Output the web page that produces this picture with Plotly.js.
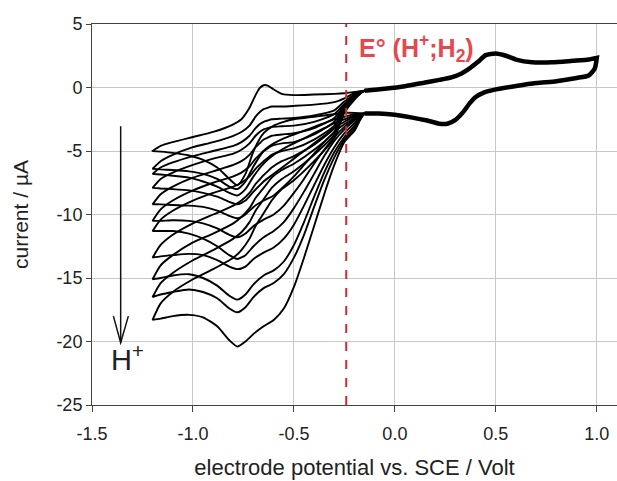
<!DOCTYPE html>
<html>
<head>
<meta charset="utf-8">
<script src="https://cdn.plot.ly/plotly-3.0.1.min.js"></script>
<style>html,body{margin:0;padding:0;background:#fff;}#chart{width:617px;height:481px;}</style>
</head>
<body>
<div id="chart"></div>
<script>
// ---------- Data ----------
// Shared part of every scan, potential > -0.15 V
const commonLowerX = [1.0,0.99,0.96,0.9,0.8,0.7,0.6,0.5,0.44,0.4,0.37,0.34,0.3,0.26,0.22,0.16,0.08,0.0,-0.08,-0.15];
const commonLowerY = [2.33,1.5,0.95,0.75,0.5,0.35,0.12,-0.15,-0.4,-0.75,-1.25,-1.9,-2.55,-2.85,-2.85,-2.6,-2.35,-2.15,-2.05,-2.05];
const commonUpperX = [-0.15,-0.05,0.05,0.15,0.22,0.28,0.33,0.37,0.41,0.45,0.5,0.55,0.6,0.68,0.78,0.88,0.96,1.0];
const commonUpperY = [-0.25,-0.1,0.1,0.4,0.6,0.8,1.1,1.5,2.0,2.55,2.68,2.5,2.2,1.98,1.98,2.1,2.2,2.33];

// Forward (cathodic) branch potentials, -0.2 -> -1.2 V
const fwdX = [-0.2,-0.25,-0.3,-0.35,-0.4,-0.45,-0.5,-0.55,-0.6,-0.65,-0.7,-0.74,-0.78,-0.82,-0.88,-0.95,-1.02,-1.1,-1.16,-1.2];
// Return (anodic) branch potentials, -1.2 -> -0.2 V
const retX = [-1.2,-1.16,-1.1,-1.0,-0.9,-0.8,-0.76,-0.72,-0.69,-0.67,-0.65,-0.63,-0.61,-0.56,-0.5,-0.4,-0.3,-0.25,-0.2];

// Currents (µA) for each scan, increasing acid concentration
const fwd0  = [-2.0,-2.0,-2.1,-2.2,-2.3,-2.4,-2.5,-2.7,-3.0,-3.6,-5.0,-6.8,-7.7,-7.2,-6.3,-5.7,-5.35,-5.15,-5.05,-5.0];
const fwd1  = [-2.1,-2.3,-2.5,-2.8,-3.1,-3.4,-3.7,-4.0,-4.4,-5.0,-6.2,-7.4,-8.0,-7.8,-7.2,-6.8,-6.6,-6.5,-6.45,-6.4];
const fwd2  = [-2.2,-2.5,-2.8,-3.2,-3.6,-4.0,-4.4,-4.8,-5.3,-6.0,-7.0,-8.0,-8.5,-8.3,-7.8,-7.4,-7.1,-6.95,-6.85,-6.8];
const fwd3  = [-2.3,-2.7,-3.2,-3.8,-4.4,-5.0,-5.6,-6.2,-6.8,-7.4,-8.2,-8.9,-9.2,-9.0,-8.6,-8.3,-8.1,-8.0,-7.95,-7.9];
const fwd4  = [-2.4,-2.9,-3.5,-4.3,-5.2,-6.1,-7.0,-7.8,-8.5,-8.9,-9.4,-10.0,-10.3,-10.1,-9.7,-9.4,-9.3,-9.25,-9.2,-9.2];
const fwd5  = [-2.5,-3.1,-3.9,-4.9,-6.0,-7.2,-8.3,-9.3,-10.0,-10.4,-10.9,-11.5,-11.8,-11.6,-11.1,-10.7,-10.5,-10.45,-10.5,-10.5];
const fwd6  = [-2.6,-3.3,-4.2,-5.4,-6.8,-8.2,-9.5,-10.6,-11.3,-11.8,-12.5,-13.2,-13.5,-13.2,-12.5,-11.9,-11.5,-11.3,-11.3,-11.3];
const fwd7  = [-2.8,-3.6,-4.7,-6.1,-7.7,-9.3,-10.8,-11.9,-12.6,-13.0,-13.5,-14.1,-14.3,-14.1,-13.6,-13.2,-13.1,-13.2,-13.3,-13.4];
const fwd8  = [-3.0,-3.9,-5.1,-6.7,-8.6,-10.6,-12.4,-13.7,-14.4,-14.8,-15.5,-16.3,-16.7,-16.4,-15.6,-15.0,-14.7,-14.8,-15.0,-15.1];
const fwd9  = [-3.2,-4.1,-5.5,-7.3,-9.4,-11.6,-13.4,-14.7,-15.4,-15.8,-16.5,-17.3,-17.7,-17.4,-16.6,-16.1,-15.9,-16.1,-16.3,-16.5];
const fwd10 = [-3.4,-4.3,-6.1,-8.4,-10.9,-13.4,-15.7,-17.4,-18.3,-18.8,-19.4,-20.0,-20.4,-19.9,-18.8,-18.1,-17.9,-18.0,-18.2,-18.3];

const ret0  = [-5.0,-4.6,-4.3,-3.9,-3.5,-2.9,-2.5,-1.6,-0.6,-0.05,0.18,0.15,-0.05,-0.5,-0.6,-0.55,-0.5,-0.45,-0.35];
const ret1  = [-6.4,-5.8,-5.3,-4.7,-4.3,-3.8,-3.5,-3.0,-2.3,-1.95,-1.7,-1.6,-1.5,-1.5,-1.45,-1.35,-1.15,-0.85,-0.45];
const ret2  = [-6.8,-6.3,-5.9,-5.4,-5.0,-4.6,-4.3,-3.8,-3.2,-2.9,-2.7,-2.6,-2.5,-2.45,-2.4,-2.2,-1.8,-1.1,-0.55];
const ret3  = [-7.9,-7.2,-6.7,-6.1,-5.6,-5.2,-4.9,-4.4,-3.8,-3.5,-3.3,-3.2,-3.1,-3.05,-3.0,-2.7,-2.1,-1.3,-0.6];
const ret4  = [-9.2,-8.4,-7.8,-7.1,-6.6,-6.1,-5.8,-5.3,-4.7,-4.4,-4.1,-3.95,-3.8,-3.7,-3.6,-3.2,-2.4,-1.4,-0.65];
const ret5  = [-10.5,-9.6,-8.9,-8.1,-7.5,-7.0,-6.7,-6.2,-5.6,-5.3,-5.0,-4.8,-4.6,-4.4,-4.3,-3.7,-2.7,-1.5,-0.7];
const ret6  = [-11.3,-10.4,-9.7,-8.9,-8.3,-7.8,-7.5,-7.0,-6.4,-6.1,-5.8,-5.55,-5.3,-5.0,-4.8,-4.1,-3.0,-1.6,-0.75];
const ret7  = [-13.4,-12.4,-11.6,-10.7,-10.0,-9.3,-8.9,-8.3,-7.6,-7.25,-6.9,-6.6,-6.3,-5.8,-5.4,-4.5,-3.2,-1.7,-0.8];
const ret8  = [-15.1,-14.0,-13.2,-12.2,-11.5,-10.7,-10.2,-9.5,-8.7,-8.3,-7.9,-7.5,-7.1,-6.5,-6.0,-4.9,-3.5,-1.8,-0.85];
const ret9  = [-16.5,-15.4,-14.6,-13.6,-12.8,-11.9,-11.4,-10.6,-9.7,-9.25,-8.8,-8.35,-7.9,-7.2,-6.6,-5.3,-3.7,-1.9,-0.9];
const ret10 = [-18.3,-17.0,-16.1,-15.1,-14.3,-13.4,-12.8,-11.9,-10.9,-10.4,-9.9,-9.4,-8.9,-8.0,-7.3,-5.8,-4.0,-2.0,-0.95];

const forwardSets = [fwd0,fwd1,fwd2,fwd3,fwd4,fwd5,fwd6,fwd7,fwd8,fwd9,fwd10];
const returnSets  = [ret0,ret1,ret2,ret3,ret4,ret5,ret6,ret7,ret8,ret9,ret10];

// Standard potential of H+/H2 vs. SCE
const eH2 = -0.241;

// Tick labels
const xTickVals = [-1.5,-1.0,-0.5,0.0,0.5,1.0];
const xTickText = ['-1.5','-1.0','-0.5','0.0','0.5','1.0'];
const yTickVals = [5,0,-5,-10,-15,-20,-25];
const yTickText = ['5','0','-5','-10','-15','-20','-25'];

// ---------- Traces ----------
const traces = [];
forwardSets.forEach((f, i) => {
  const r = returnSets[i];
  traces.push({
    type: 'scatter', mode: 'lines',
    x: [].concat(commonLowerX, fwdX, retX, commonUpperX),
    y: [].concat(commonLowerY, f, r, commonUpperY),
    line: {color: '#000', width: 1.9, shape: 'spline', smoothing: 0.6},
    hoverinfo: 'skip', showlegend: false
  });
});
// overlapping scans in the positive region form a thicker band
traces.push({
  type: 'scatter', mode: 'lines',
  x: [].concat(commonUpperX, commonLowerX),
  y: [].concat(commonUpperY, commonLowerY),
  line: {color: '#000', width: 4.5, shape: 'spline', smoothing: 0.6},
  hoverinfo: 'skip', showlegend: false
});

const fam = 'Liberation Sans, Arial, sans-serif';
const font = {family: fam, color: '#222'};

const layout = {
  width: 617, height: 481,
  margin: {l: 92, r: 0, t: 24, b: 76},
  paper_bgcolor: '#fff', plot_bgcolor: '#fff',
  showlegend: false,
  font: Object.assign({size: 18}, font),
  xaxis: {
    range: [-1.5, 1.1], tickvals: xTickVals, ticktext: xTickText,
    showgrid: true, gridcolor: '#c8c8c8', gridwidth: 1,
    zeroline: false, showline: true, linecolor: '#444', linewidth: 1, mirror: true,
    ticks: 'outside', ticklen: 6, tickcolor: '#444', ticklabelstandoff: 6,
    tickfont: Object.assign({size: 18}, font),
    title: {text: 'electrode potential vs. SCE / Volt', font: Object.assign({size: 22}, font), standoff: 17}
  },
  yaxis: {
    range: [-25, 5], tickvals: yTickVals, ticktext: yTickText,
    showgrid: true, gridcolor: '#c8c8c8', gridwidth: 1,
    zeroline: false, showline: true, linecolor: '#444', linewidth: 1,
    ticks: 'outside', ticklen: 5, tickcolor: '#444',
    tickfont: Object.assign({size: 18}, font),
    title: {text: 'current / µA', font: Object.assign({size: 21}, font), standoff: 22}
  },
  shapes: [
    {type: 'line', xref: 'x', yref: 'paper', x0: eH2, x1: eH2, y0: 0, y1: 1,
     line: {color: '#d9272e', width: 2, dash: 'dash'}},
    {type: 'line', xref: 'x', yref: 'y', x0: -1.358, x1: -1.358, y0: -3.05, y1: -20.1,
     line: {color: '#111', width: 1.5}},
    {type: 'path', xref: 'x', yref: 'y', path: 'M -1.394 -18.0 L -1.358 -20.1 L -1.320 -18.0',
     line: {color: '#111', width: 1.5}}
  ],
  annotations: [
    {xref: 'x', yref: 'y', x: -0.19, y: 3.1, xanchor: 'left', yanchor: 'middle', showarrow: false,
     text: '<b>E° (H<sup>+</sup>;H<sub>2</sub>)</b>',
     font: {family: fam, size: 25, color: '#e8474d'}},
    {xref: 'x', yref: 'y', x: -1.325, y: -21.3, xanchor: 'center', yanchor: 'middle', showarrow: false,
     text: 'H<sup>+</sup>',
     font: {family: fam, size: 29, color: '#222'}}
  ]
};

Plotly.newPlot('chart', traces, layout, {staticPlot: true, displayModeBar: false});
</script>
</body>
</html>
